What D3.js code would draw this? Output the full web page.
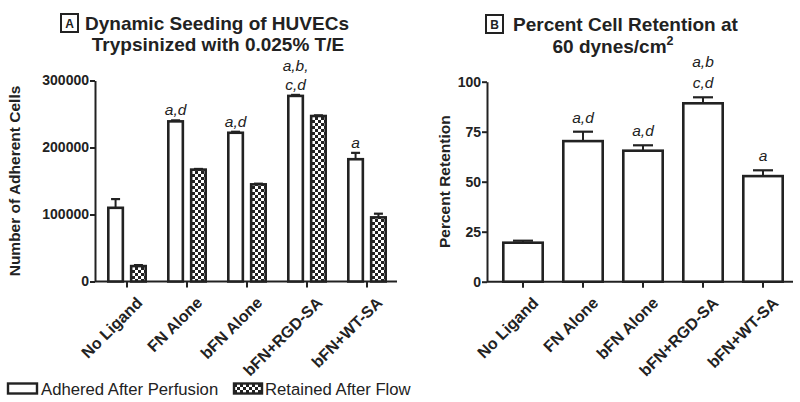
<!DOCTYPE html>
<html><head><meta charset="utf-8">
<script src="https://cdn.jsdelivr.net/npm/d3@7"></script>
<style>body{margin:0;background:#fff}svg{display:block}text{font-family:"Liberation Sans",Arial,sans-serif;fill:#222}</style>
</head><body><svg id="c" width="800" height="402"></svg>
<script>
const categories = ["No Ligand","FN Alone","bFN Alone","bFN+RGD-SA","bFN+WT-SA"];
const adheredMean = [110000,239000,222000,277000,182500];
const adheredErr  = [13000,1500,1500,1500,9500];
const retainedMean = [23000,167000,145000,247000,95700];
const retainedErr  = [1500,1000,1000,1000,5500];
const retentionMean = [19.5,70.3,65.5,89.2,52.8];
const retentionErr  = [1.0,4.7,2.7,3.0,2.9];
const annotA = [[],["a,d"],["a,d"],["a,b,","c,d"],["a"]];
const annotB = [[],["a,d"],["a,d"],["a,b","c,d"],["a"]];
const ticksA = [0,100000,200000,300000];
const ticksB = [0,25,50,75,100];

const svg = d3.select("#c");
const ink = "#222";
const defs = svg.append("defs");
const pat = defs.append("pattern").attr("id","chk").attr("patternUnits","userSpaceOnUse").attr("width",6).attr("height",6);
pat.append("rect").attr("width",6).attr("height",6).attr("fill","#fff");
pat.append("rect").attr("width",3).attr("height",3).attr("fill",ink);
pat.append("rect").attr("x",3).attr("y",3).attr("width",3).attr("height",3).attr("fill",ink);

function axes(g, x, y, ticks, x0, xEnd, yLabel, yLabelX){
  const yAx = g.append("g").attr("transform",`translate(${x0},0)`)
    .call(d3.axisLeft(y).tickValues(ticks).tickFormat(d3.format("d")).tickSize(5).tickSizeOuter(0));
  yAx.select(".domain").attr("stroke",ink).attr("stroke-width",2);
  yAx.selectAll(".tick line").attr("stroke",ink).attr("stroke-width",2);
  yAx.selectAll(".tick text").attr("font-size",14).attr("font-weight","bold").attr("fill",ink).attr("dx",2);
  const xAx = g.append("g").attr("transform",`translate(0,${y(0)})`)
    .call(d3.axisBottom(x).tickSize(6).tickSizeOuter(0));
  xAx.select(".domain").attr("d",`M${x0},0H${xEnd}`).attr("stroke",ink).attr("stroke-width",2);
  xAx.selectAll(".tick line").attr("stroke",ink).attr("stroke-width",2);
  xAx.selectAll(".tick text").attr("font-size",16).attr("font-weight","bold").attr("fill",ink)
    .attr("text-anchor","end").attr("transform","translate(6,12) rotate(-45)").attr("dy","0.35em");
  const [ya,yb] = y.range();
  g.append("text").attr("transform",`translate(${yLabelX},${(ya+yb)/2}) rotate(-90)`)
    .attr("text-anchor","middle").attr("font-size",15.5).attr("font-weight","bold").text(yLabel);
}

function errBar(g, cx, yTop, yErr, cap){
  g.append("line").attr("x1",cx).attr("x2",cx).attr("y1",yTop).attr("y2",yErr).attr("stroke",ink).attr("stroke-width",2);
  g.append("line").attr("x1",cx-cap/2).attr("x2",cx+cap/2).attr("y1",yErr).attr("y2",yErr).attr("stroke",ink).attr("stroke-width",2.2);
}
function bar(g, xl, w, yTop, y0, fill){
  g.append("rect").attr("x",xl+1.3).attr("y",yTop).attr("width",w-2.6).attr("height",y0-yTop)
    .attr("fill",fill).attr("stroke",ink).attr("stroke-width",2.6);
}

// Panel A
const gA = svg.append("g");
const xA = d3.scaleBand().domain(categories).range([97,397]);
const yA = d3.scaleLinear().domain([0,300000]).range([281.5,80.5]);
const sub = d3.scaleBand().domain(["adh","ret"]).range([10,50]).paddingInner(0.25);
axes(gA, xA, yA, ticksA, 95, 397, "Number of Adherent Cells", 20);
categories.forEach((c,i)=>{
  const bx = xA(c);
  const w = sub.bandwidth();
  const ax = bx+sub("adh"), rx = bx+sub("ret");
  errBar(gA, ax+w/2, yA(adheredMean[i]), yA(adheredMean[i]+adheredErr[i]), 9);
  errBar(gA, rx+w/2, yA(retainedMean[i]), yA(retainedMean[i]+retainedErr[i]), 9);
  bar(gA, ax, w, yA(adheredMean[i]), yA(0), "#fff");
  bar(gA, rx, w, yA(retainedMean[i]), yA(0), "url(#chk)");
  const lines = annotA[i];
  const base = yA(adheredMean[i]+adheredErr[i]) - 5;
  lines.forEach((t,j)=>{
    gA.append("text").attr("x",ax+w/2).attr("y",base-(lines.length-1-j)*19)
      .attr("text-anchor","middle").attr("font-size",15.5).attr("font-style","italic").text(t);
  });
});
// Title A
gA.append("rect").attr("x",61).attr("y",14).attr("width",17).attr("height",18).attr("fill","none").attr("stroke",ink).attr("stroke-width",2);
gA.append("text").attr("x",69.5).attr("y",28).attr("text-anchor","middle").attr("font-size",12).attr("font-weight","bold").text("A");
gA.append("text").attr("x",85).attr("y",30).attr("font-size",19).attr("font-weight","bold").text("Dynamic Seeding of HUVECs");
gA.append("text").attr("x",218).attr("y",51).attr("text-anchor","middle").attr("font-size",19).attr("font-weight","bold").text("Trypsinized with 0.025% T/E");

// Panel B
const gB = svg.append("g");
const xB = d3.scaleBand().domain(categories).range([493,793]).paddingInner(0.3).paddingOuter(0.15);
const yB = d3.scaleLinear().domain([0,100]).range([281.7,81.7]);
axes(gB, xB, yB, ticksB, 487, 793, "Percent Retention", 450);
categories.forEach((c,i)=>{
  const bx = xB(c), w = xB.bandwidth();
  errBar(gB, bx+w/2, yB(retentionMean[i]), yB(retentionMean[i]+retentionErr[i]), 20);
  bar(gB, bx, w, yB(retentionMean[i]), yB(0), "#fff");
  const lines = annotB[i];
  const base = yB(retentionMean[i]+retentionErr[i]) - 9;
  lines.forEach((t,j)=>{
    gB.append("text").attr("x",bx+w/2).attr("y",base-(lines.length-1-j)*21)
      .attr("text-anchor","middle").attr("font-size",15.5).attr("font-style","italic").text(t);
  });
});
gB.append("rect").attr("x",486).attr("y",15).attr("width",17).attr("height",18).attr("fill","none").attr("stroke",ink).attr("stroke-width",2);
gB.append("text").attr("x",494.5).attr("y",29).attr("text-anchor","middle").attr("font-size",12).attr("font-weight","bold").text("B");
gB.append("text").attr("x",513).attr("y",31).attr("font-size",19).attr("font-weight","bold").text("Percent Cell Retention at");
const t2 = gB.append("text").attr("x",613).attr("y",53).attr("text-anchor","middle").attr("font-size",19).attr("font-weight","bold");
t2.append("tspan").text("60 dynes/cm");
t2.append("tspan").attr("font-size",12.5).attr("dy",-8).text("2");

// Legend
const lg = svg.append("g");
lg.append("rect").attr("x",8).attr("y",383.5).attr("width",29).attr("height",10).attr("fill","#fff").attr("stroke",ink).attr("stroke-width",2.4);
lg.append("text").attr("x",41).attr("y",394.5).attr("font-size",16.7).text("Adhered After Perfusion");
lg.append("rect").attr("x",234).attr("y",383.5).attr("width",28).attr("height",10).attr("fill","url(#chk)").attr("stroke",ink).attr("stroke-width",2.4);
lg.append("text").attr("x",265).attr("y",394.5).attr("font-size",16.7).text("Retained After Flow");
</script></body></html>
